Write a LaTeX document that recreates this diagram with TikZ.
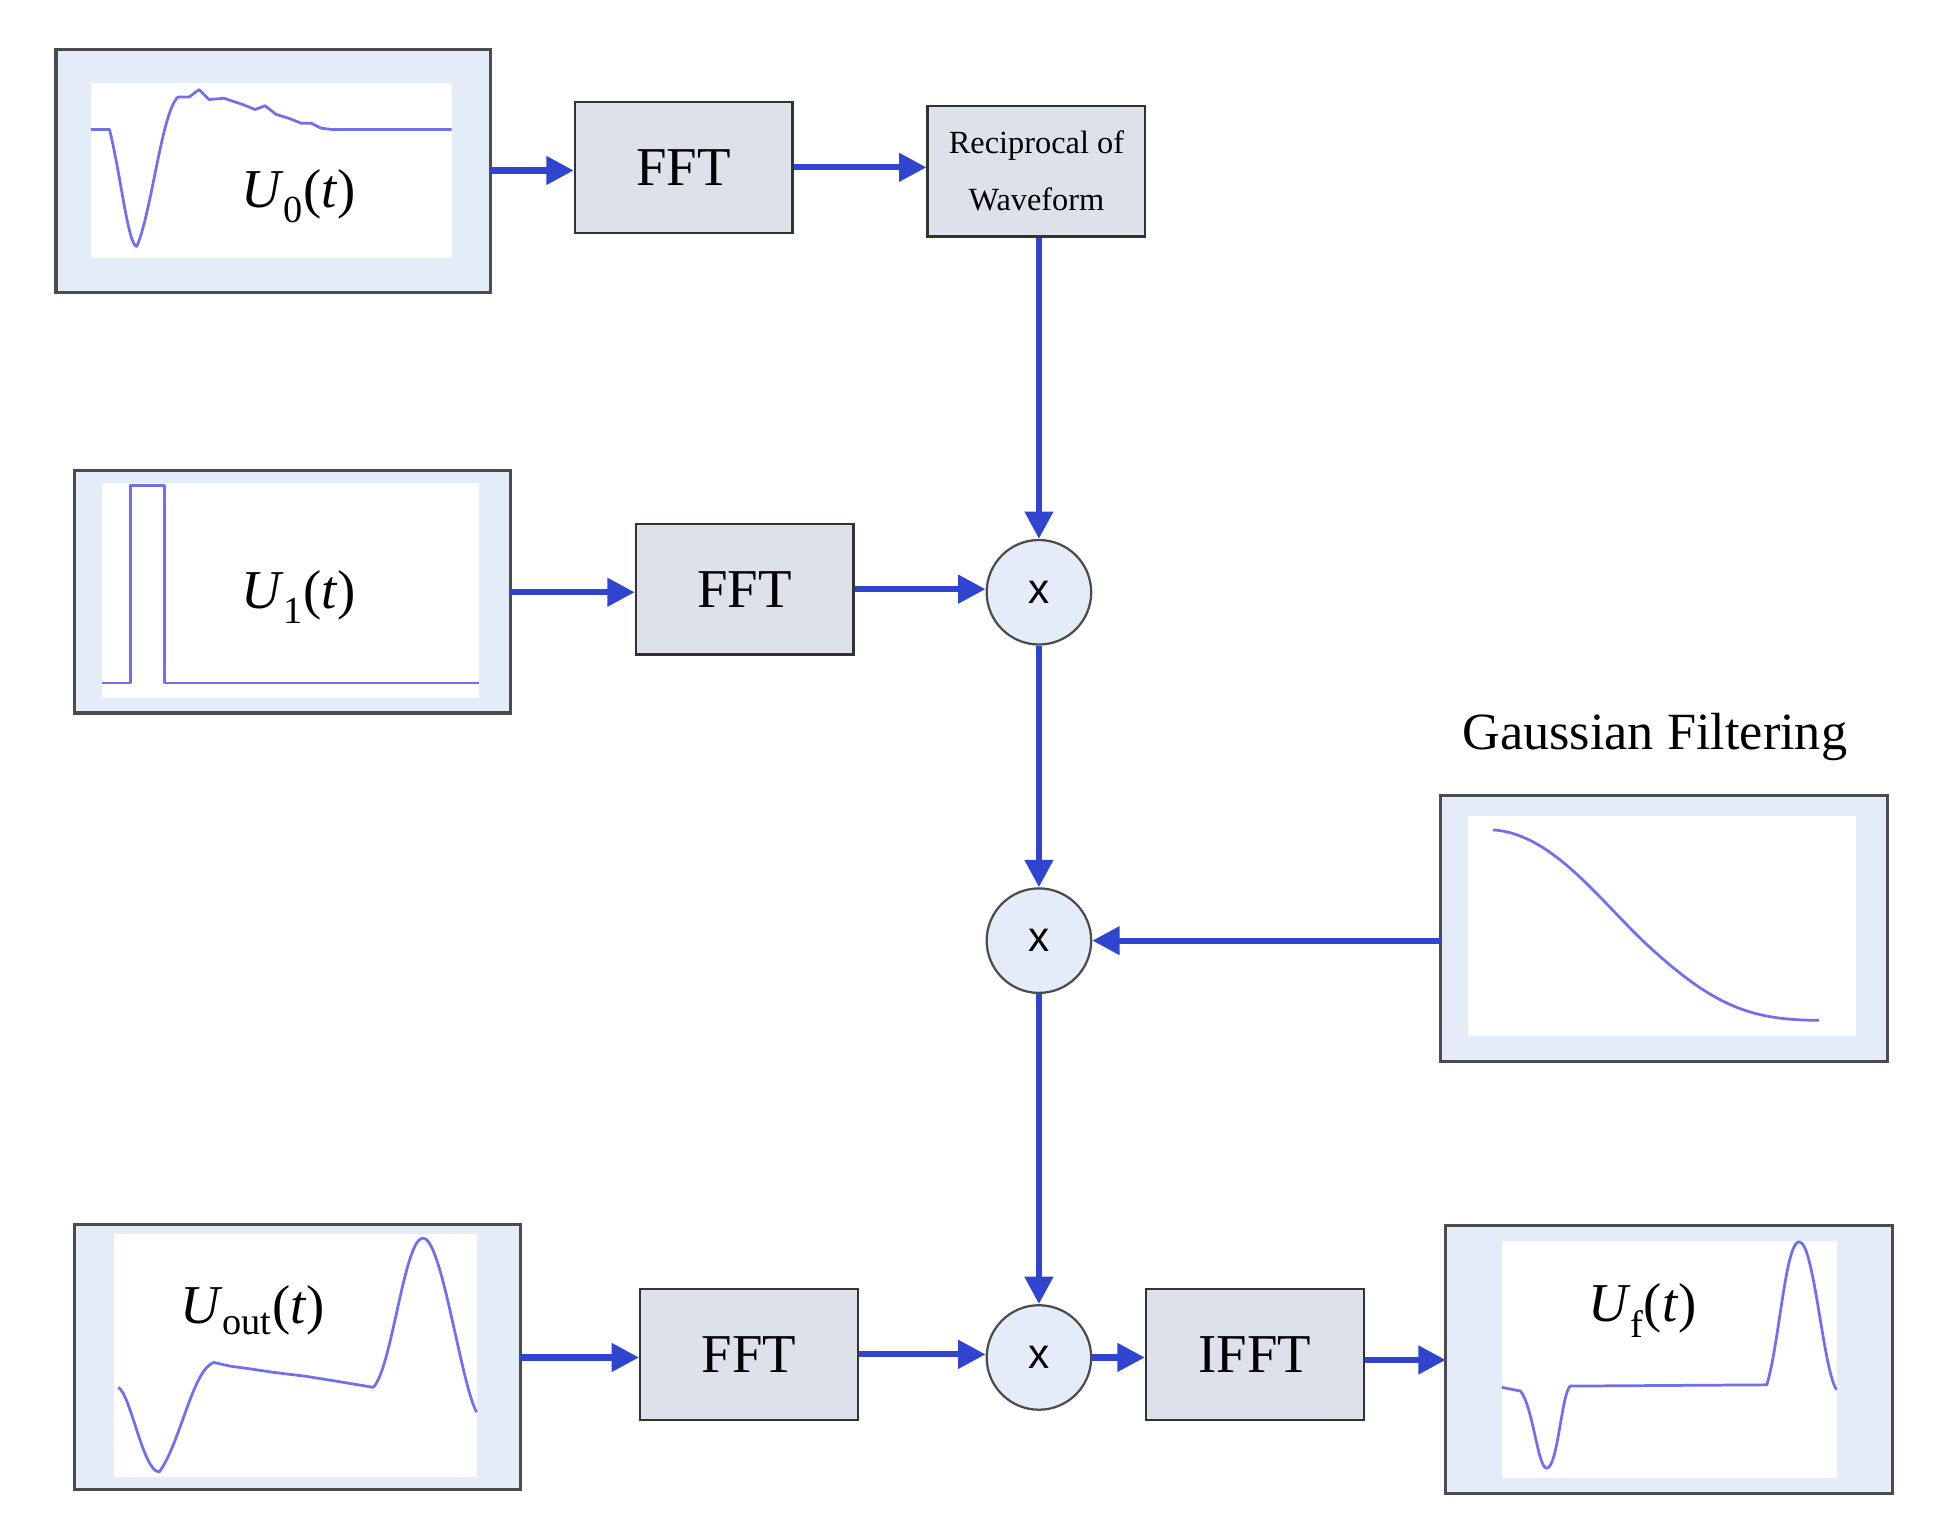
\documentclass[tikz,border=0pt]{standalone}
\usepackage{fontspec}
\setmainfont{Liberation Serif}
\newfontfamily\sansx{Liberation Sans}
\usetikzlibrary{arrows.meta}
\definecolor{lb}{HTML}{E3ECF8}
\definecolor{gb}{HTML}{DCE1EA}
\definecolor{ab}{HTML}{2F45D0}
\definecolor{wv}{HTML}{6F6FF0}
\begin{document}
\begin{tikzpicture}[x=1pt,y=-1pt,
  outer/.style={draw=black!70,line width=2.5pt,fill=lb},
  inner/.style={fill=white},
  blk/.style={draw=black!80,line width=1.8pt,fill=gb,minimum width=175pt,minimum height=105pt,inner sep=0pt,font=\fontsize{44}{48}\selectfont},
  mul/.style={circle,draw=black!70,line width=1.8pt,fill=lb,minimum size=84pt,inner sep=0pt,font=\sansx\fontsize{34}{36}\selectfont},
  arr/.style={draw=ab,line width=5pt,-{Triangle[length=22pt,width=22pt]}},
  wave/.style={draw=wv,line width=2.2pt,line join=round},
  lab/.style={font=\fontsize{44}{50}\selectfont}]
\useasboundingbox (0,0) rectangle (1560,1236);
% signal boxes
\draw[outer] (45,40) rectangle (394,235); \fill[inner] (73,67) rectangle (363,207);
\draw[outer] (60,378) rectangle (410,573); \fill[inner] (82,388) rectangle (385,561);
\draw[outer] (1158,639) rectangle (1517,853); \fill[inner] (1180,656) rectangle (1492,833);
\draw[outer] (60,984) rectangle (418,1197); \fill[inner] (92,992) rectangle (383,1187);
\draw[outer] (1162,985) rectangle (1521,1200); \fill[inner] (1207,997) rectangle (1476,1188);
\coordinate (s0) at (394,137);
\coordinate (s1) at (410,476);
\coordinate (sg) at (1158,756);
\coordinate (so) at (418,1091);
\coordinate (sf) at (1162,1093);
% waveforms
\draw[wave] (73,104) -- (88,104) .. controls (97,140) and (103,198) .. (110,198) .. controls (122,170) and (130,90) .. (143,78) -- (152,78) -- (160,72) -- (168,80) -- (180,79) -- (195,84) -- (205,88) -- (213,85) -- (222,92) -- (232,95) -- (242,99) -- (250,99) -- (258,103) -- (266,104) -- (363,104);
\draw[wave] (82,549) -- (105,549) -- (105,390) -- (132,390) -- (132,549) -- (385,549);
\draw[wave] (1200,667) .. controls (1250,670) and (1290,730) .. (1330,765) .. controls (1380,810) and (1410,820) .. (1462,820);
\draw[wave] (95,1115) .. controls (105,1120) and (115,1183) .. (128,1183) .. controls (145,1160) and (155,1100) .. (172,1095) -- (185,1098) -- (200,1100) -- (220,1103) -- (245,1106) -- (270,1110) -- (300,1115) .. controls (315,1100) and (325,995) .. (340,995) .. controls (355,995) and (370,1110) .. (383,1135);
\draw[wave] (1207,1115) -- (1222,1118) .. controls (1232,1130) and (1236,1180) .. (1243,1180) .. controls (1252,1180) and (1255,1120) .. (1262,1114) -- (1420,1113) .. controls (1430,1080) and (1435,998) .. (1446,998) .. controls (1458,998) and (1465,1100) .. (1476,1117);
% labels
\node[lab] (l0) at (240,158) {\textit{U}\textsubscript{0}(\textit{t})};
\node[lab] (l1) at (240,480) {\textit{U}\textsubscript{1}(\textit{t})};
\node[lab] (lo) at (203,1053) {\textit{U}\textsubscript{out}(\textit{t})};
\node[lab] (lf) at (1320,1053) {\textit{U}\textsubscript{f}(\textit{t})};
\node[font=\fontsize{42}{46}\selectfont] (gl) at (1330,592) {Gaussian Filtering};
% blocks
\node[blk] (f1) at (549.5,134.5) {FFT};
\node[blk,align=center,font=\fontsize{26}{46}\selectfont] (rw) at (833,137.5) {Reciprocal of\\Waveform};
\node[blk] (f2) at (598.5,473.5) {FFT};
\node[blk] (f3) at (602,1088.5) {FFT};
\node[blk] (if) at (1008.5,1088.5) {IFFT};
\node[mul] (m1) at (835,476) {x};
\node[mul] (m2) at (835,756) {x};
\node[mul] (m3) at (835,1091) {x};
% arrows
\draw[arr] (s0) -- (f1.west|-s0);
\draw[arr] (f1.east) -- (rw.west|-f1.east);
\draw[arr] (rw.south-|m1) -- (m1.north);
\draw[arr] (s1) -- (f2.west|-s1);
\draw[arr] (f2.east) -- (m1.west|-f2.east);
\draw[arr] (m1.south) -- (m2.north);
\draw[arr] (sg) -- (m2.east);
\draw[arr] (m2.south) -- (m3.north);
\draw[arr] (so) -- (f3.west|-so);
\draw[arr] (f3.east) -- (m3.west|-f3.east);
\draw[arr] (m3.east) -- (if.west|-m3.east);
\draw[arr] (if.east|-sf) -- (sf);
\end{tikzpicture}
\end{document}
